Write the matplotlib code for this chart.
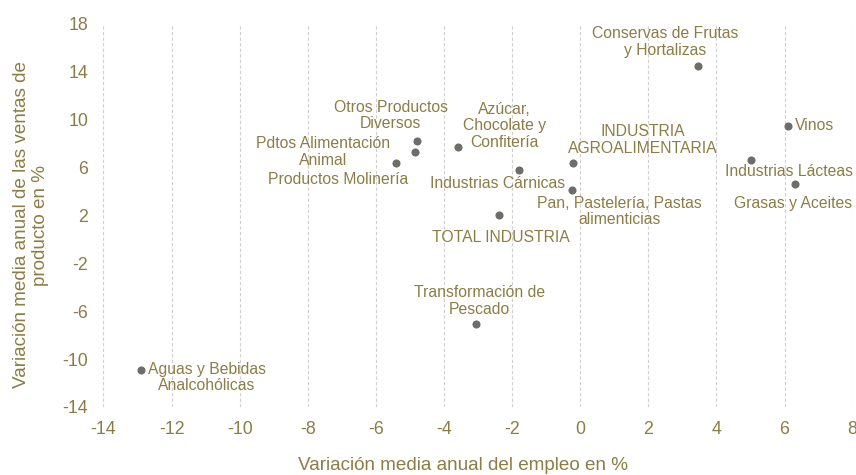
import matplotlib
matplotlib.use("Agg")
import matplotlib.pyplot as plt

plt.rcParams['font.family'] = ['Liberation Sans', 'DejaVu Sans']
plt.rcParams['axes.unicode_minus'] = False

# Sector data: average annual change in employment (x) and sales (y), in %
sectors = [
    "Conservas de Frutas\ny Hortalizas",
    "Vinos",
    "Industrias Lácteas",
    "Grasas y Aceites",
    "INDUSTRIA\nAGROALIMENTARIA",
    "Pan, Pastelería, Pastas\nalimenticias",
    "Industrias Cárnicas",
    "Azúcar,\nChocolate y\nConfitería",
    "TOTAL INDUSTRIA",
    "Otros Productos\nDiversos",
    "Pdtos Alimentación\nAnimal",
    "Productos Molinería",
    "Transformación de\nPescado",
    "Aguas y Bebidas\nAnalcohólicas",
]
empleo = [3.45, 6.1, 5.0, 6.3, -0.2, -0.25, -1.8, -3.6, -2.4, -4.8, -4.85, -5.4, -3.05, -12.9]
ventas = [14.5, 9.5, 6.6, 4.6, 6.4, 4.1, 5.8, 7.75, 2.0, 8.25, 7.3, 6.35, -7.05, -10.9]

x_ticks = [-14, -12, -10, -8, -6, -4, -2, 0, 2, 4, 6, 8]
y_ticks = [-14, -10, -6, -2, 2, 6, 10, 14, 18]

# label placement (offset in pixels from the marker, text alignment)
label_offsets = [
    ((-33, 8), 'center', 'bottom'),
    ((7, 0), 'left', 'center'),
    ((38, -11), 'center', 'center'),
    ((-2, -19), 'center', 'center'),
    ((69, 23), 'center', 'center'),
    ((48, -21), 'center', 'center'),
    ((-21, -13), 'center', 'center'),
    ((47, 21), 'center', 'center'),
    ((2, -22), 'center', 'center'),
    ((-26, 25), 'center', 'center'),
    ((-92, 0), 'center', 'center'),
    ((-58, -16), 'center', 'center'),
    ((3, 23), 'center', 'center'),
    ((7, -7.5), 'left', 'center'),
]

text_color = '#8c7d45'
marker_color = '#6d6e6a'

fig = plt.figure(figsize=(8.56, 4.75), dpi=100)
ax = fig.add_axes([0.1209, 0.1432, 0.8752, 0.8063])

ax.scatter(empleo, ventas, s=34, color=marker_color, zorder=3, linewidths=0)

for name, xv, yv, (off, ha, va) in zip(sectors, empleo, ventas, label_offsets):
    ax.annotate(name, (xv, yv), xytext=off, textcoords='offset pixels',
                ha=ha, va=va, multialignment='center', fontsize=11.3,
                color=text_color, linespacing=1.12)

ax.set_xlim(-14, 8)
ax.set_ylim(-14, 18)
ax.set_xticks(x_ticks)
ax.set_yticks(y_ticks)
ax.grid(axis='x', color='#cfcfcf', linestyle=(0, (3, 2)), linewidth=0.8)
ax.grid(axis='y', visible=False)
ax.set_axisbelow(True)
for sp in ax.spines.values():
    sp.set_visible(False)
ax.tick_params(axis='both', length=0, labelsize=12.8, labelcolor=text_color)
ax.tick_params(axis='x', pad=10)
ax.tick_params(axis='y', pad=11)

# axis titles
fig.text(463 / 856, 1 - 466 / 475, "Variación media anual del empleo en %",
         ha='center', va='center', fontsize=13.6, color=text_color)
fig.text(31 / 856, 1 - 225 / 475,
         "Variación media anual de las ventas de\nproducto en %",
         ha='center', va='center', rotation=90, multialignment='center',
         fontsize=13.6, color=text_color, linespacing=1.1)

fig.savefig("out.png", dpi=100)
